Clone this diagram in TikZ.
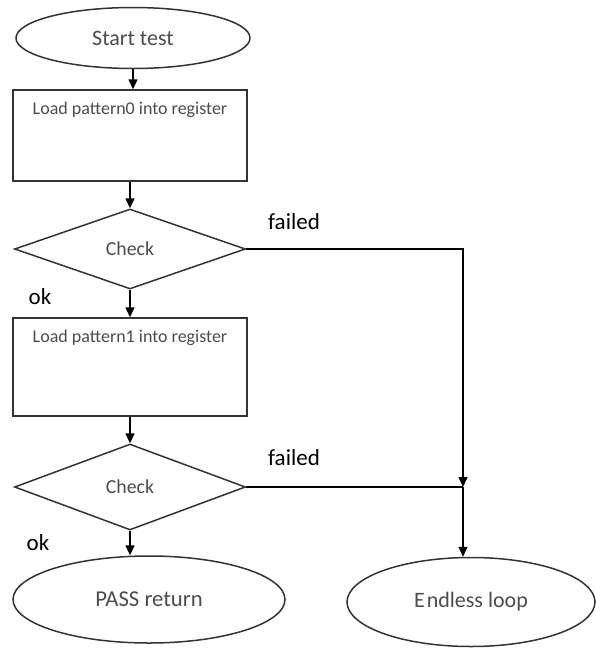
\documentclass[tikz,border=0pt]{standalone}
\usepackage{fontspec}
\setmainfont{Carlito}
\usetikzlibrary{shapes.geometric,arrows.meta,positioning}

\begin{document}
\begin{tikzpicture}[x=1pt, y=-1pt, line width=1.5pt,
  term/.style={ellipse, draw=black!80, inner sep=0pt, text=black!70, font=\fontsize{22}{25}\selectfont},
  proc/.style={rectangle, draw=black!80, minimum width=234pt, inner sep=0pt},
  dec/.style={diamond, draw=black!80, inner sep=0pt, minimum width=231pt, text=black!70, font=\fontsize{19.8}{22}\selectfont},
  lbl/.style={anchor=north, inner sep=0pt, yshift=-12pt, text=black!70, font=\fontsize{18}{20}\selectfont},
  cond/.style={font=\fontsize{23}{26}\selectfont},
  arr/.style={-{Triangle[length=10pt,width=9pt]}}]
\useasboundingbox (0,0) rectangle (595,648);
%main column
\node[term, minimum width=234pt, minimum height=61pt] (start) at (133,38) {Start test};
\node[proc, minimum height=91pt, label={[lbl]north:Load pattern0 into register}] (load0) at (130,135.5) {};
\node[dec, minimum height=80pt] (check0) at (130,249) {Check};
\node[proc, minimum height=98pt, label={[lbl]north:Load pattern1 into register}] (load1) at (130,367) {};
\node[dec, minimum height=86pt] (check1) at (130,487) {Check};
\node[term, minimum width=272pt, minimum height=87pt, font=\fontsize{22.7}{26}\selectfont] (pass) at (149,599.5) {PASS return};
%failure branch
\node[term, minimum width=248pt, minimum height=89pt] (loop) at (471,602) {E\kern2pt ndless loop};
\coordinate (rail) at (463,0);
\coordinate (join) at (rail |- check1.east);
%labels
\node[cond] (fail0) at (294,222) {failed};
\node[cond] (fail1) at (294,458) {failed};
\node[cond] (ok0) at (40,297) {ok};
\node[cond] (ok1) at (38,543) {ok};
%connectors
\draw[arr] (start) -- (start |- load0.north);
\draw[arr] (load0) -- (check0);
\draw[arr] (check0) -- (load1);
\draw[arr] (load1) -- (check1);
\draw[arr] (check1) -- (check1 |- pass.north);
\draw[arr] (check0) -| (join);
\draw (check1) -- (join);
\draw[arr] (join) -- (join |- loop.north);
\end{tikzpicture}
\end{document}
